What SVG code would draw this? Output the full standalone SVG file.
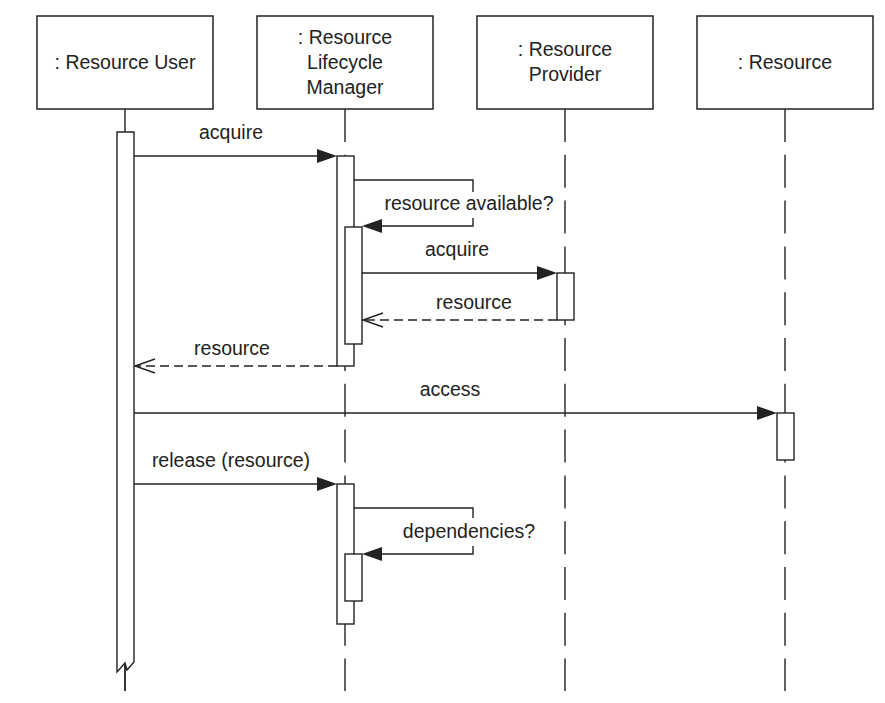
<svg xmlns="http://www.w3.org/2000/svg" width="885" height="703" viewBox="0 0 885 703">
<style>
.box{fill:#fff;stroke:#222;stroke-width:1.5}
.act{fill:#fff;stroke:#222;stroke-width:1.4}
.life{stroke:#222;stroke-width:1.4;stroke-dasharray:33,12.8;fill:none}
.msg{stroke:#222;stroke-width:1.4;fill:none}
.ret{stroke:#222;stroke-width:1.4;fill:none;stroke-dasharray:9,5}
.t{font-family:"Liberation Sans",Arial,sans-serif;font-size:19.5px;fill:#222;text-anchor:middle}
.fill{fill:#222;stroke:none}
.open{fill:none;stroke:#222;stroke-width:1.4}
</style>
<rect width="885" height="703" fill="#fff"/>
<g id="lifelines">
<line class="life" x1="125" y1="109" x2="125" y2="691"/>
<line class="life" x1="345" y1="109" x2="345" y2="691"/>
<line class="life" x1="565" y1="109" x2="565" y2="691"/>
<line class="life" x1="785" y1="109" x2="785" y2="691"/>
</g>
<g id="user">
<rect class="box" x="37" y="16" width="176" height="93"/>
<text class="t" x="125" y="69">: Resource User</text>
<path class="act" d="M117,132 H134 V662 L127,670 L125,663 L117,672 Z"/>
<line class="msg" x1="125" y1="665" x2="125" y2="691"/>
</g>
<g id="manager">
<rect class="box" x="257" y="16" width="176" height="93"/>
<text class="t" x="345" y="44">: Resource</text>
<text class="t" x="345" y="69">Lifecycle</text>
<text class="t" x="345" y="94">Manager</text>
<rect class="act" x="337" y="156" width="17" height="210"/>
<rect class="act" x="345" y="227" width="17" height="117"/>
<rect class="act" x="337" y="484" width="17" height="140"/>
<rect class="act" x="345" y="554" width="17" height="47"/>
</g>
<g id="provider">
<rect class="box" x="477" y="16" width="176" height="93"/>
<text class="t" x="565" y="56">: Resource</text>
<text class="t" x="565" y="81">Provider</text>
<rect class="act" x="557" y="273" width="17" height="47"/>
</g>
<g id="resource">
<rect class="box" x="697" y="16" width="176" height="93"/>
<text class="t" x="785" y="69">: Resource</text>
<rect class="act" x="777" y="413" width="17" height="47"/>
</g>
<g id="connectors">
<line class="msg" x1="134" y1="156" x2="318" y2="156"/>
<path class="fill" d="M337,156 L317,149 L317,163 Z"/>
<text class="t" x="231" y="139">acquire</text>

<path class="msg" d="M354,180 H473 V192 M473,218 V226 H380"/>
<path class="fill" d="M362,226 L382,219 L382,233 Z"/>
<text class="t" x="469" y="210">resource available?</text>

<line class="msg" x1="362" y1="273" x2="538" y2="273"/>
<path class="fill" d="M557,273 L537,266 L537,280 Z"/>
<text class="t" x="457" y="256">acquire</text>

<line class="ret" x1="557" y1="320" x2="363" y2="320"/>
<path class="open" d="M383,313 L363,320 L383,327"/>
<text class="t" x="474" y="309">resource</text>

<line class="ret" x1="337" y1="366" x2="135" y2="366"/>
<path class="open" d="M155,359 L135,366 L155,373"/>
<text class="t" x="232" y="355">resource</text>

<line class="msg" x1="134" y1="413" x2="758" y2="413"/>
<path class="fill" d="M777,413 L757,406 L757,420 Z"/>
<text class="t" x="450" y="396">access</text>

<line class="msg" x1="134" y1="484" x2="318" y2="484"/>
<path class="fill" d="M337,484 L317,477 L317,491 Z"/>
<text class="t" x="231" y="467">release (resource)</text>

<path class="msg" d="M354,508 H473 V518 M473,546 V554 H380"/>
<path class="fill" d="M362,554 L382,547 L382,561 Z"/>
<text class="t" x="469" y="538">dependencies?</text>
</g>
</svg>
